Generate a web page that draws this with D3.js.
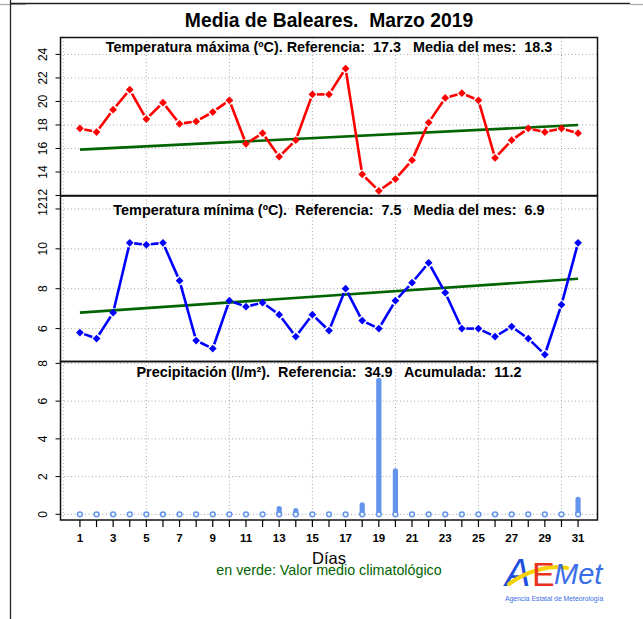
<!DOCTYPE html>
<html>
<head>
<meta charset="utf-8">
<script src="https://cdn.jsdelivr.net/npm/d3@7"></script>
<style>
  html, body { margin: 0; padding: 0; background: #fff; }
  svg { display: block; font-family: "Liberation Sans", Arial, sans-serif; }
  text { white-space: pre; }
</style>
</head>
<body>
<svg id="chart" width="643" height="619"></svg>
<script>
/* ============================================================
   Media de Baleares - Marzo 2019
   3 paneles: Tmax, Tmin, Precipitacion (estilo grafico R de AEMET)
============================================================ */

// ---------- datos ----------
const days = d3.range(1, 32);

const tmaxValues = [17.7, 17.4, 19.3, 21.0, 18.5, 19.9, 18.1, 18.3, 19.1, 20.1,
                    16.4, 17.3, 15.3, 16.7, 20.6, 20.6, 22.8, 13.8, 12.4, 13.4,
                    15.0, 18.2, 20.3, 20.7, 20.1, 15.2, 16.7, 17.7, 17.4, 17.7, 17.3];

const tminValues = [5.8, 5.5, 6.8, 10.3, 10.2, 10.3, 8.4, 5.4, 5.0, 7.4,
                    7.1, 7.3, 6.7, 5.6, 6.7, 5.9, 8.0, 6.4, 6.0, 7.4,
                    8.3, 9.3, 7.8, 6.0, 6.0, 5.6, 6.1, 5.5, 4.7, 7.2, 10.3];

const precipValues = [0, 0, 0, 0, 0, 0, 0, 0, 0, 0,
                      0, 0, 0.3, 0.2, 0, 0, 0, 0.5, 7.1, 2.3,
                      0, 0, 0, 0, 0, 0, 0, 0, 0, 0, 0.8];

// valor medio climatologico (recta del dia 1 al 31)
const normalDays = [1, 31];
const tmaxNormal = [15.9, 18.0];
const tminNormal = [6.8, 8.5];

// ticks
const tmaxTicks = [12, 14, 16, 18, 20, 22, 24];
const tminTicks = [6, 8, 10, 12];
const precipTicks = [0, 2, 4, 6, 8];
const gridDays = [0, 5, 10, 15, 20, 25, 30];
const dayLabels = days.filter((d) => d % 2 === 1);

// textos
const mainTitle = "Media de Baleares.  Marzo 2019";
const panelTitles = [
  "Temperatura máxima (ºC). Referencia:  17.3   Media del mes:  18.3",
  "Temperatura mínima (ºC).  Referencia:  7.5   Media del mes:  6.9",
  "Precipitación (l/m²).  Referencia:  34.9   Acumulada:  11.2"
];


// ---------- geometria ----------
const PLOT_LEFT = 60.5;
const PLOT_RIGHT = 597.5;
const GREEN = "#006400";
const RAIN = "#6495ED";

const svg = d3.select("#chart");

const x = d3.scaleLinear().domain([-0.17, 32.17]).range([PLOT_LEFT, PLOT_RIGHT]);

// cada panel: dominio y rango vertical propios
const panels = [
  { y: d3.scaleLinear().domain([12, 25.44]).range([195.5, 37.5]), ticks: tmaxTicks, titleY: 52 },
  { y: d3.scaleLinear().domain([4.35, 12.65]).range([361.5, 196]), ticks: tminTicks, titleY: 215 },
  { y: d3.scaleLinear().domain([-0.3, 8.1]).range([520, 361.5]), ticks: precipTicks, titleY: 377 }
];


// ---------- marco exterior de la imagen ----------
svg.append("line").attr("x1", 0).attr("x2", 26).attr("y1", 4.5).attr("y2", 4.5)
  .attr("stroke", "#aaa").attr("stroke-width", 1.2);
svg.append("line").attr("x1", 630).attr("x2", 643).attr("y1", 4.5).attr("y2", 4.5)
  .attr("stroke", "#aaa").attr("stroke-width", 1.2);
svg.append("line").attr("x1", 10).attr("x2", 630).attr("y1", 3.5).attr("y2", 3.5)
  .attr("stroke", "#222").attr("stroke-width", 1.3);
svg.append("line").attr("x1", 10.5).attr("x2", 10.5).attr("y1", 0).attr("y2", 619)
  .attr("stroke", "#222").attr("stroke-width", 1.3);


// ---------- titulo ----------
svg.append("text")
  .attr("x", (PLOT_LEFT + PLOT_RIGHT) / 2)
  .attr("y", 27)
  .attr("text-anchor", "middle")
  .attr("font-weight", "bold")
  .attr("font-size", 19.3)
  .text(mainTitle);


// ---------- rejilla, ejes y titulos de cada panel ----------
panels.forEach((p, i) => {
  const [yBottom, yTop] = p.y.range();
  const g = svg.append("g");

  // rejilla punteada
  g.selectAll(".vgrid").data(gridDays).enter().append("line")
    .attr("x1", (d) => x(d)).attr("x2", (d) => x(d))
    .attr("y1", yTop).attr("y2", yBottom)
    .attr("stroke", "#a8a8a8").attr("stroke-width", 1)
    .attr("stroke-dasharray", "1,2.5");

  g.selectAll(".hgrid").data(p.ticks).enter().append("line")
    .attr("x1", PLOT_LEFT).attr("x2", PLOT_RIGHT)
    .attr("y1", (d) => p.y(d)).attr("y2", (d) => p.y(d))
    .attr("stroke", "#a8a8a8").attr("stroke-width", 1)
    .attr("stroke-dasharray", "1,2.5");

  // eje y con etiquetas giradas (estilo R)
  g.selectAll(".ytick").data(p.ticks).enter().append("line")
    .attr("x1", PLOT_LEFT - 5).attr("x2", PLOT_LEFT)
    .attr("y1", (d) => p.y(d)).attr("y2", (d) => p.y(d))
    .attr("stroke", "#000");

  g.selectAll(".ylab").data(p.ticks).enter().append("text")
    .attr("transform", (d) => `translate(47,${p.y(d)}) rotate(-90)`)
    .attr("text-anchor", "middle")
    .attr("font-size", 12)
    .text((d) => d);

  // titulo del panel
  g.append("text")
    .attr("x", (PLOT_LEFT + PLOT_RIGHT) / 2)
    .attr("y", p.titleY)
    .attr("text-anchor", "middle")
    .attr("font-weight", "bold")
    .attr("font-size", 14.4)
    .text(panelTitles[i]);
});


// ---------- series de temperatura (tipo "b": puntos + lineas con hueco) ----------
function drawTempSeries(values, normals, y, color) {
  const g = svg.append("g");

  // recta climatologica
  g.append("line")
    .attr("x1", x(normalDays[0])).attr("y1", y(normals[0]))
    .attr("x2", x(normalDays[1])).attr("y2", y(normals[1]))
    .attr("stroke", GREEN).attr("stroke-width", 2.6);

  const pts = days.map((d, i) => [x(d), y(values[i])]);
  const GAP = 4.5;

  g.selectAll(".seg").data(d3.pairs(pts)).enter().append("line")
    .each(function ([a, b]) {
      const dx = b[0] - a[0], dy = b[1] - a[1];
      const len = Math.hypot(dx, dy);
      const ux = dx / len, uy = dy / len;
      d3.select(this)
        .attr("x1", a[0] + ux * GAP).attr("y1", a[1] + uy * GAP)
        .attr("x2", b[0] - ux * GAP).attr("y2", b[1] - uy * GAP);
    })
    .attr("stroke", color).attr("stroke-width", 2.6);

  // rombos rellenos (pch 18)
  g.selectAll(".pt").data(pts).enter().append("path")
    .attr("d", d3.symbol(d3.symbolSquare, 30))
    .attr("transform", (d) => `translate(${d[0]},${d[1]}) rotate(45)`)
    .attr("fill", color);
}

drawTempSeries(tmaxValues, tmaxNormal, panels[0].y, "#ff0000");
drawTempSeries(tminValues, tminNormal, panels[1].y, "#0000ff");


// ---------- precipitacion (barras tipo "h" + circulos en cero) ----------
const yP = panels[2].y;
const rainG = svg.append("g");

rainG.selectAll(".bar").data(days.filter((d, i) => precipValues[i] > 0)).enter().append("line")
  .attr("x1", (d) => x(d)).attr("x2", (d) => x(d))
  .attr("y1", yP(0)).attr("y2", (d) => yP(precipValues[d - 1]))
  .attr("stroke", RAIN).attr("stroke-width", 5.2).attr("stroke-linecap", "round");

rainG.selectAll(".zero").data(days).enter().append("circle")
  .attr("cx", (d) => x(d)).attr("cy", yP(0)).attr("r", 2.4)
  .attr("fill", "#fff").attr("stroke", RAIN).attr("stroke-width", 1.5);


// ---------- marcos de los paneles ----------
panels.forEach((p) => {
  const [yBottom, yTop] = p.y.range();
  svg.append("rect")
    .attr("x", PLOT_LEFT).attr("y", yTop)
    .attr("width", PLOT_RIGHT - PLOT_LEFT).attr("height", yBottom - yTop)
    .attr("fill", "none").attr("stroke", "#111").attr("stroke-width", 1.5);
});


// ---------- eje x (dias) ----------
const axisY = panels[2].y.range()[0];
svg.selectAll(".xtick").data(days).enter().append("line")
  .attr("x1", (d) => x(d)).attr("x2", (d) => x(d))
  .attr("y1", axisY).attr("y2", axisY + 7)
  .attr("stroke", "#000").attr("stroke-width", 1.2);

svg.selectAll(".xlab").data(dayLabels).enter().append("text")
  .attr("x", (d) => x(d)).attr("y", 542)
  .attr("text-anchor", "middle")
  .attr("font-weight", "bold")
  .attr("font-size", 11.5)
  .text((d) => d);

// "Días" queda pisando la leyenda verde, igual que en el original
svg.append("text")
  .attr("x", 329).attr("y", 564)
  .attr("text-anchor", "middle")
  .attr("font-size", 16.5)
  .text("Días");

svg.append("text")
  .attr("x", 329).attr("y", 575)
  .attr("text-anchor", "middle")
  .attr("font-size", 14.3)
  .attr("fill", GREEN)
  .text("en verde: Valor medio climatológico");


// ---------- logo AEMet (aproximado con texto) ----------
const logo = svg.append("g").attr("transform", "translate(505,0)");

logo.append("text")
  .attr("x", 0).attr("y", 586)
  .attr("font-size", 38).attr("font-style", "italic")
  .attr("fill", "#1f4fe0")
  .text("A");

logo.append("path")
  .attr("d", "M4,584 C20,572 45,564 62,568")
  .attr("fill", "none").attr("stroke", "#f5d20a")
  .attr("stroke-width", 4).attr("stroke-linecap", "round");

logo.append("text")
  .attr("x", 27).attr("y", 586)
  .attr("font-size", 34)
  .attr("fill", "#e8321e")
  .text("E");

logo.append("text")
  .attr("x", 49).attr("y", 584)
  .attr("font-size", 29).attr("font-style", "italic")
  .attr("fill", "#3a6ee8")
  .text("Met");

logo.append("text")
  .attr("x", 0).attr("y", 601)
  .attr("font-size", 6.8)
  .attr("fill", "#3a6ee8")
  .text("Agencia Estatal de Meteorología");
</script>
</body>
</html>
